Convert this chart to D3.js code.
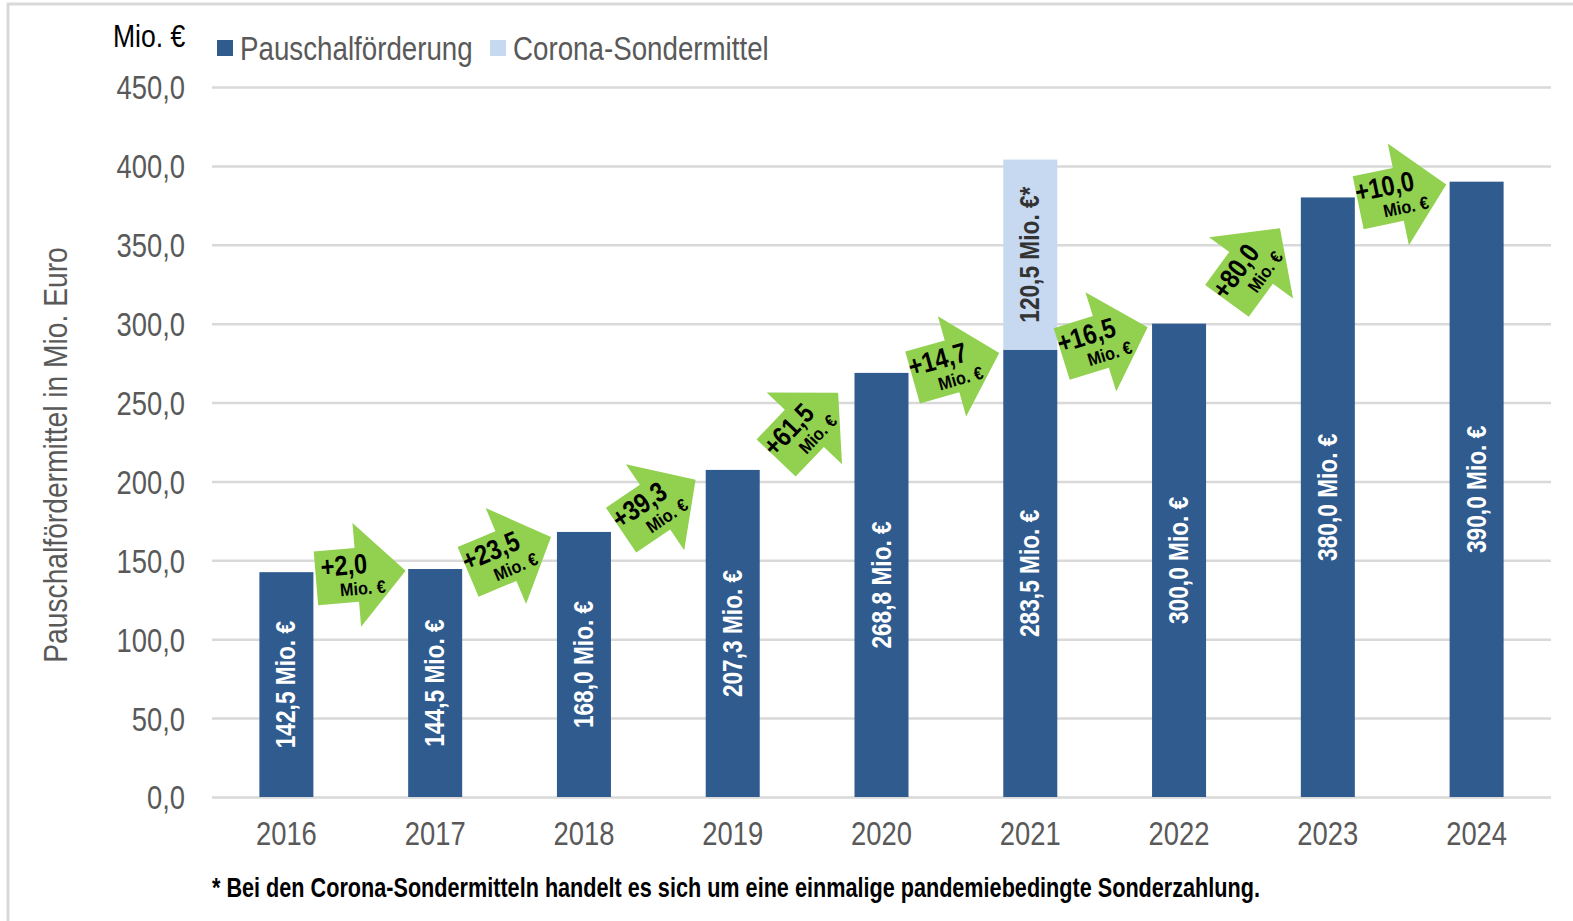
<!DOCTYPE html>
<html>
<head>
<meta charset="utf-8">
<script src="https://cdn.jsdelivr.net/npm/d3@7"></script>
<style>
  html, body { margin: 0; padding: 0; background: #fff; }
  svg { display: block; }
  text { font-family: 'Liberation Sans Narrow', 'Arial Narrow', 'Liberation Sans', sans-serif; }
</style>
</head>
<body>
<svg id="chart" width="1573" height="921"></svg>
<script>
// ---- data ----
const years = ["2016", "2017", "2018", "2019", "2020", "2021", "2022", "2023", "2024"];
const pauschal = [142.5, 144.5, 168.0, 207.3, 268.8, 283.5, 300.0, 380.0, 390.0];
const corona = [0, 0, 0, 0, 0, 120.5, 0, 0, 0];
const yTicks = [0, 50, 100, 150, 200, 250, 300, 350, 400, 450];
const seriesNames = ["Pauschalförderung", "Corona-Sondermittel"];
const unitLabel = "Mio. €";
const yTitle = "Pauschalfördermittel in Mio. Euro";
const footnote = "* Bei den Corona-Sondermitteln handelt es sich um eine einmalige pandemiebedingte Sonderzahlung.";

// ---- setup ----
const W = 1573, H = 921;
const svg = d3.select("#chart");
const colDark = "#2F5B8F", colLight = "#C6D9F0", colGreen = "#92D050", colGrid = "#D9D9D9", colText = "#595959";
const de = d3.formatLocale({ decimal: ",", thousands: ".", grouping: [3], currency: ["", " €"] });
const f1 = de.format(".1f");

// emulate a condensed (Arial Narrow–like) face
function narrow(sel, k) {
  sel.each(function () {
    const len = this.getComputedTextLength();
    d3.select(this).attr("textLength", len * (k || 0.83)).attr("lengthAdjust", "spacingAndGlyphs");
  });
}

const x = d3.scaleBand().domain(years).range([212, 1551]).paddingInner(0.637).paddingOuter(0.3185);
const y = d3.scaleLinear().domain([0, 450]).range([797, 87]);

// outer frame
svg.append("rect").attr("x", 8).attr("y", 4).attr("width", W + 20).attr("height", H + 20)
  .attr("fill", "none").attr("stroke", "#D9D9D9").attr("stroke-width", 3);

// gridlines + y tick labels
const grid = d3.axisLeft(y).tickValues(yTicks).tickSize(-(1551 - 212)).tickFormat(f1);
const gAxis = svg.append("g").attr("transform", "translate(212,0)").call(grid);
gAxis.select(".domain").remove();
gAxis.selectAll(".tick line").attr("stroke", colGrid).attr("stroke-width", 2.5);
gAxis.selectAll(".tick text").attr("x", -27).attr("fill", colText)
  .attr("font-size", 33).attr("dy", "0.36em").call(narrow);

// x axis labels
const xAxis = d3.axisBottom(x).tickSize(0);
const gx = svg.append("g").attr("transform", "translate(0,797)").call(xAxis);
gx.select(".domain").remove();
gx.selectAll(".tick text").attr("fill", colText).attr("font-size", 33).attr("y", 25).call(narrow);

// bars
const bw = x.bandwidth();
svg.append("g").selectAll("rect").data(years).join("rect")
  .attr("x", d => x(d)).attr("width", bw)
  .attr("y", (d, i) => y(pauschal[i])).attr("height", (d, i) => y(0) - y(pauschal[i]))
  .attr("fill", colDark);
svg.append("g").selectAll("rect").data(years.filter((d, i) => corona[i] > 0)).join("rect")
  .attr("x", d => x(d)).attr("width", bw)
  .attr("y", d => { const i = years.indexOf(d); return y(pauschal[i] + corona[i]); })
  .attr("height", d => { const i = years.indexOf(d); return y(pauschal[i]) - y(pauschal[i] + corona[i]); })
  .attr("fill", colLight);

// bar labels
years.forEach((d, i) => {
  const cx = x(d) + bw / 2;
  const cy = (y(0) + y(pauschal[i])) / 2;
  svg.append("text").attr("transform", `translate(${cx + 9},${cy}) rotate(-90)`)
    .attr("text-anchor", "middle").attr("font-weight", "bold").attr("font-size", 27)
    .attr("fill", "#fff").text(f1(pauschal[i]) + " " + unitLabel).call(narrow, 0.84);
  if (corona[i] > 0) {
    const cy2 = (y(pauschal[i]) + y(pauschal[i] + corona[i])) / 2;
    svg.append("text").attr("transform", `translate(${cx + 9},${cy2}) rotate(-90)`)
      .attr("text-anchor", "middle").attr("font-weight", "bold").attr("font-size", 27)
      .attr("fill", "#333").text(f1(corona[i]) + " " + unitLabel + "*").call(narrow, 0.84);
  }
});

// arrows (increase from one year to the next)
const arrowPath = "M-45,-27 L-4,-27 L-4,-52 L45,0 L-4,52 L-4,27 L-45,27 Z";
for (let i = 0; i < years.length - 1; i++) {
  const diff = pauschal[i + 1] - pauschal[i];
  const x1 = x(years[i]) + bw / 2, x2 = x(years[i + 1]) + bw / 2;
  const cx = (x1 + x2) / 2;
  const cy = (y(pauschal[i]) + y(pauschal[i + 1])) / 2 + 4;
  const dy = y(pauschal[i]) - y(pauschal[i + 1]);
  const ang = -Math.atan2(dy * 1.45, x2 - x1) * 180 / Math.PI - 3;
  const g = svg.append("g").attr("transform", `translate(${cx},${cy}) rotate(${ang})`);
  g.append("path").attr("d", arrowPath).attr("fill", colGreen);
  g.append("text").attr("x", -16).attr("y", -1).attr("text-anchor", "middle")
    .attr("font-weight", "bold").attr("font-size", 28).attr("fill", "#000")
    .text("+" + f1(diff)).call(narrow, 0.84);
  g.append("text").attr("x", 1).attr("y", 20).attr("text-anchor", "middle")
    .attr("font-weight", "bold").attr("font-size", 18).attr("fill", "#000")
    .text(unitLabel).call(narrow, 0.9);
}

// unit label + legend
svg.append("text").attr("x", 113).attr("y", 47).attr("font-size", 32).attr("fill", "#000")
  .text(unitLabel).call(narrow);
const legCols = [colDark, colLight];
const legX = [217, 490];
seriesNames.forEach((n, i) => {
  svg.append("rect").attr("x", legX[i]).attr("y", 40).attr("width", 16).attr("height", 16).attr("fill", legCols[i]);
  svg.append("text").attr("x", legX[i] + 23).attr("y", 60).attr("font-size", 33).attr("fill", colText)
    .text(n).call(narrow, 0.84);
});

// y title
svg.append("text").attr("transform", "translate(67,455) rotate(-90)").attr("text-anchor", "middle")
  .attr("font-size", 33).attr("fill", colText).text(yTitle).call(narrow, 0.855);

// footnote
svg.append("text").attr("x", 212).attr("y", 897).attr("font-size", 27).attr("font-weight", "bold")
  .attr("fill", "#000").attr("textLength", 1048).attr("lengthAdjust", "spacingAndGlyphs").text(footnote);
</script>
</body>
</html>
